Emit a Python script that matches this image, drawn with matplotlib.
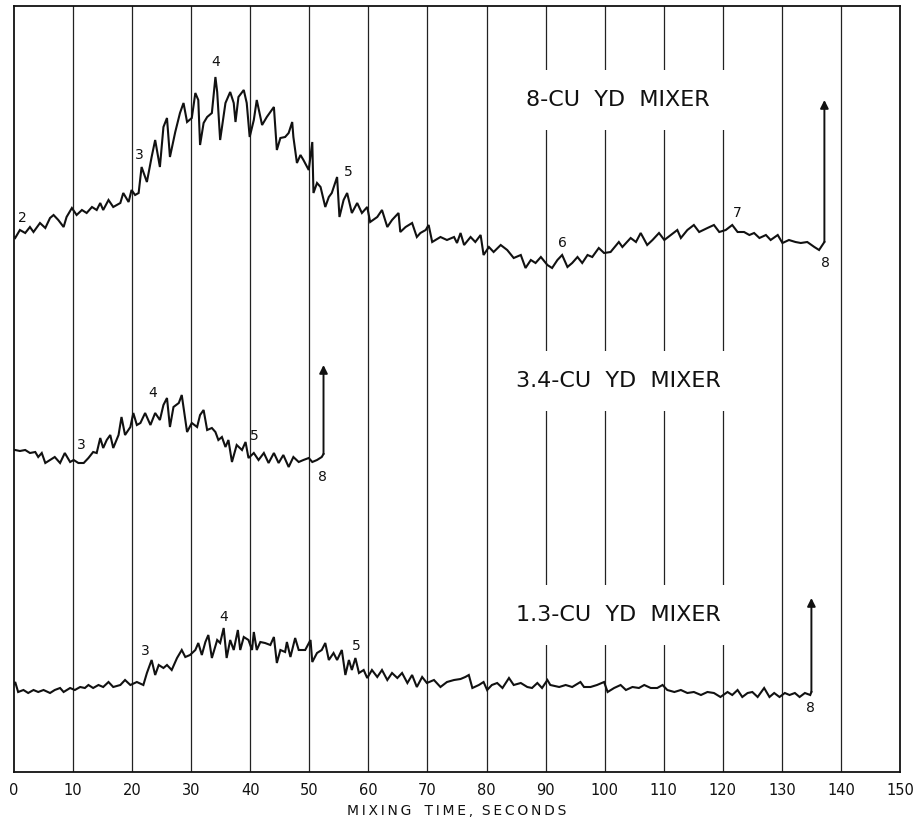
import numpy as np
import matplotlib
matplotlib.use('Agg')
import matplotlib.pyplot as plt

# mixing time (seconds) and recorder deflection (chart units)
t_8cu = [0, 0.2, 1.0, 1.9, 2.7, 3.3, 4.4, 5.3, 6.1, 6.7, 7.5, 8.4, 8.9, 9.8, 10.6, 11.5,
         12.3, 13.2, 14.0, 14.6, 15.1, 16.0, 16.8, 18.0, 18.5, 19.4, 19.9, 20.5, 21.1, 21.6,
         22.5, 23.3, 23.9, 24.7, 25.3, 25.9, 26.4, 27.3, 28.1, 28.7, 29.3, 30.1, 30.7, 31.2,
         31.5, 32.1, 32.7, 33.5, 34.1, 34.4, 34.9, 35.8, 36.6, 37.2, 37.5, 38.0, 38.9, 39.4,
         39.9, 40.6, 41.1, 42.0, 42.8, 44.0, 44.5, 45.1, 45.9, 46.5, 47.1, 47.3, 47.9, 48.5,
         49.0, 49.9, 50.5, 50.7, 51.3, 51.9, 52.7, 53.3, 53.8, 54.7, 55.1, 55.8, 56.4, 57.2,
         58.1, 58.9, 59.8, 60.3, 61.5, 62.3, 63.2, 64.0, 65.1, 65.4, 66.3, 67.4, 68.2, 68.8,
         69.7, 70.2, 70.8, 72.2, 73.3, 74.5, 75.0, 75.6, 76.2, 77.3, 78.1, 79.0, 79.5, 80.4,
         81.2, 82.4, 83.5, 84.6, 85.8, 86.6, 87.5, 88.3, 89.2, 90.3, 91.1, 92.0, 92.8, 93.7,
         94.5, 95.4, 96.2, 97.1, 97.9, 99.0, 99.9, 101.0, 102.4, 103.0, 104.4, 105.3, 106.1,
         107.2, 108.1, 109.2, 110.1, 111.2, 112.3, 112.9, 114.0, 115.1, 116.0, 117.4, 118.5,
         119.4, 120.5, 121.6, 122.5, 123.6, 124.5, 125.3, 126.2, 127.3, 128.1, 129.3, 130.1,
         131.2, 132.3, 133.2, 134.3, 135.5, 136.3, 137.2]
d_8cu = [535, 534, 542, 539, 545, 540, 549, 544, 554, 557, 552, 545, 555, 564, 557, 562,
         559, 565, 562, 569, 562, 572, 565, 569, 579, 570, 582, 577, 579, 605,
         590, 615, 632, 605, 645, 654, 615, 640, 659, 669, 650, 654, 679, 672,
         627, 649, 655, 659, 695, 680, 632, 669, 680, 669, 650, 675, 682, 669,
         635, 652, 672, 647, 655, 665, 622, 634, 635, 639, 650, 635, 609, 617,
         612, 602, 630, 579, 589, 585, 565, 575, 579, 595, 555, 572, 579, 559,
         569, 559, 565, 550, 555, 562, 545, 552, 559, 540, 545, 549, 535, 539,
         542, 547, 530, 535, 532, 535, 529, 539, 527, 535, 530, 537, 517, 525,
         520, 527, 522, 514, 517, 504, 512, 509, 515, 507, 504, 512, 517, 505,
         509, 515, 509, 517, 515, 524, 519, 520, 530, 525, 534, 530, 539,
         527, 532, 539, 532, 537, 542, 534, 542, 547, 540, 544, 547,
         540, 542, 547, 540, 540, 537, 539, 534, 537, 532, 537, 529,
         532, 530, 529, 530, 525, 522, 530]

t_34cu = [0, 0.2, 1.0, 1.9, 2.7, 3.6, 4.1, 4.7, 5.3, 6.1, 6.9, 7.8, 8.6, 9.5, 10.1, 10.9,
          11.8, 12.6, 13.4, 14.0, 14.6, 15.1, 15.7, 16.3, 16.8, 17.7, 18.2, 18.8, 19.7, 20.2,
          20.8, 21.4, 22.2, 23.1, 23.9, 24.7, 25.3, 25.9, 26.4, 27.0, 27.9, 28.4, 29.3, 30.1,
          31.0, 31.5, 32.1, 32.7, 33.5, 34.1, 34.6, 35.2, 35.8, 36.3, 36.9, 37.7, 38.6, 39.2,
          39.7, 40.6, 41.4, 42.3, 43.1, 44.0, 44.8, 45.6, 46.5, 47.3, 48.2, 49.0, 49.9, 50.5,
          51.3, 52.1, 52.4]
d_34cu = [322, 322, 321, 322, 319, 320, 315, 319, 309, 312, 315, 309, 319, 310, 312, 309,
          309, 314, 320, 319, 334, 324, 332, 337, 324, 337, 355, 337, 345, 359,
          347, 349, 359, 347, 359, 352, 367, 374, 345, 365, 369, 377, 340, 349,
          345, 357, 362, 342, 344, 340, 332, 335, 325, 332, 310, 327, 322, 330,
          314, 319, 312, 319, 309, 319, 309, 317, 305, 315, 310, 312, 314, 310,
          312, 315, 318]

t_13cu = [0, 0.2, 0.7, 1.6, 2.4, 3.3, 4.1, 5.0, 6.1, 6.9, 7.8, 8.4, 9.5, 10.3, 11.2, 12.0,
          12.6, 13.4, 14.3, 15.1, 16.0, 16.8, 18.0, 18.8, 19.7, 20.8, 21.9, 22.5, 23.3, 23.9,
          24.5, 25.3, 25.9, 26.7, 27.6, 28.4, 29.0, 29.8, 30.7, 31.2, 31.8, 32.4, 32.9, 33.5,
          34.4, 34.9, 35.5, 36.0, 36.6, 37.2, 37.9, 38.3, 38.9, 39.7, 40.3, 40.6, 41.1, 41.7,
          42.5, 43.4, 44.0, 44.5, 45.1, 45.9, 46.2, 46.8, 47.6, 48.2, 49.3, 50.2, 50.5, 51.3,
          52.1, 52.7, 53.3, 54.1, 54.7, 55.5, 56.1, 56.7, 57.2, 57.8, 58.4, 59.2, 59.8, 60.6,
          61.5, 62.3, 63.2, 64.0, 64.9, 65.7, 66.6, 67.4, 68.2, 69.1, 69.9, 71.1, 72.2, 73.3,
          74.5, 75.6, 76.4, 77.0, 77.6, 78.7, 79.5, 80.1, 80.9, 81.8, 82.7, 83.8, 84.6, 85.8,
          86.9, 87.7, 88.6, 89.4, 90.3, 90.8, 92.3, 93.4, 94.5, 95.9, 96.5, 97.6, 98.7, 99.9,
          100.5, 101.6, 102.7, 103.6, 104.7, 105.8, 106.7, 107.8, 108.9, 109.8, 110.6, 111.8,
          112.9, 114.0, 115.1, 116.3, 117.4, 118.5, 119.6, 120.8, 121.6, 122.5, 123.3, 124.2,
          125.0, 125.9, 127.0, 127.9, 128.7, 129.6, 130.5, 131.3, 132.2, 133.0, 133.9, 134.8,
          135.0]
d_13cu = [88, 90, 80, 82, 79, 82, 80, 82, 79, 82, 84, 80, 84, 82, 85, 84,
          87, 84, 87, 85, 90, 85, 87, 92, 87, 90, 87, 99, 112, 97,
          107, 104, 107, 102, 114, 122, 115, 117, 122, 129, 117, 130, 137, 114,
          132, 129, 144, 114, 132, 122, 142, 122, 135, 132, 122, 140, 122, 130,
          129, 127, 135, 109, 122, 120, 130, 115, 134, 122, 122, 132, 110, 119,
          122, 129, 112, 119, 112, 122, 97, 112, 102, 114, 99, 102, 94, 102,
          95, 102, 92, 99, 94, 99, 89, 97, 85, 95, 89, 92, 85, 90,
          92, 93, 95, 97, 84, 87, 90, 82, 87, 89, 84, 94, 87, 89,
          85, 84, 89, 84, 92, 87, 85, 87, 85, 90, 85, 85, 87, 90,
          80, 84, 87, 82, 85, 84, 87, 84, 84, 87, 82, 80,
          82, 79, 80, 77, 80, 79, 75, 80, 77, 82, 75, 79,
          80, 75, 84, 75, 79, 75, 79, 77, 79, 75, 79, 77,
          80]

# end-of-mix arrow tops (chart units)
arrow_top = [672, 407, 174]

mixers = ['8-CU YD MIXER', '3.4-CU YD MIXER', '1.3-CU YD MIXER']
xticks = list(range(0, 151, 10))

# numbered event marks: (label, time, deflection)
marks_8cu = [('2', 1.4, 554), ('3', 21.2, 617), ('4', 34.1, 710), ('5', 56.6, 600),
             ('6', 92.9, 529), ('7', 122.4, 559), ('8', 137.3, 509)]
marks_34cu = [('3', 11.4, 327), ('4', 23.4, 379), ('5', 40.7, 336), ('8', 52.2, 295)]
marks_13cu = [('3', 22.2, 121), ('4', 35.5, 155), ('5', 58.0, 126), ('8', 134.9, 64)]

fig = plt.figure(figsize=(9.19, 8.22), dpi=100)
ax = fig.add_axes([14 / 919, 50 / 822, 886 / 919, 766 / 822])
ax.set_xlim(0, 150)
ax.set_ylim(0, 766)

for x in xticks[1:-1]:
    ax.axvline(x, color='#222222', lw=0.9, zorder=1)

ink = '#111111'
for t, d, top in zip([t_8cu, t_34cu, t_13cu], [d_8cu, d_34cu, d_13cu], arrow_top):
    ax.plot(t, d, color=ink, lw=1.5, zorder=3, solid_joinstyle='miter')
    ax.annotate('', xy=(t[-1], top), xytext=(t[-1], d[-1]),
                arrowprops=dict(arrowstyle='-|>', color=ink, lw=1.4,
                                mutation_scale=12, shrinkA=0, shrinkB=0), zorder=3)

for marks in [marks_8cu, marks_34cu, marks_13cu]:
    for lab, x, y in marks:
        ax.text(x, y, lab, fontsize=10, ha='center', va='center', color=ink, zorder=4)

for name, y in zip(mixers, [672, 391, 157]):
    ax.text(102.3, y, name.replace(' ', '  '), fontsize=16, ha='center', va='center',
            color=ink, zorder=2,
            bbox=dict(boxstyle='square,pad=0.9', fc='white', ec='none'))

ax.set_yticks([])
ax.set_xticks(xticks)
ax.set_xticklabels([str(v) for v in xticks], fontsize=10.5)
ax.tick_params(axis='x', length=0, pad=8, colors=ink)
xlab = '\u2009'.join('MIXING') + '   ' + '\u2009'.join('TIME,') + '  ' + '\u2009'.join('SECONDS')
ax.set_xlabel(xlab, fontsize=10, color=ink, labelpad=4)
for s in ax.spines.values():
    s.set_color(ink)
    s.set_linewidth(1.3)

fig.savefig('out.png', dpi=100)
